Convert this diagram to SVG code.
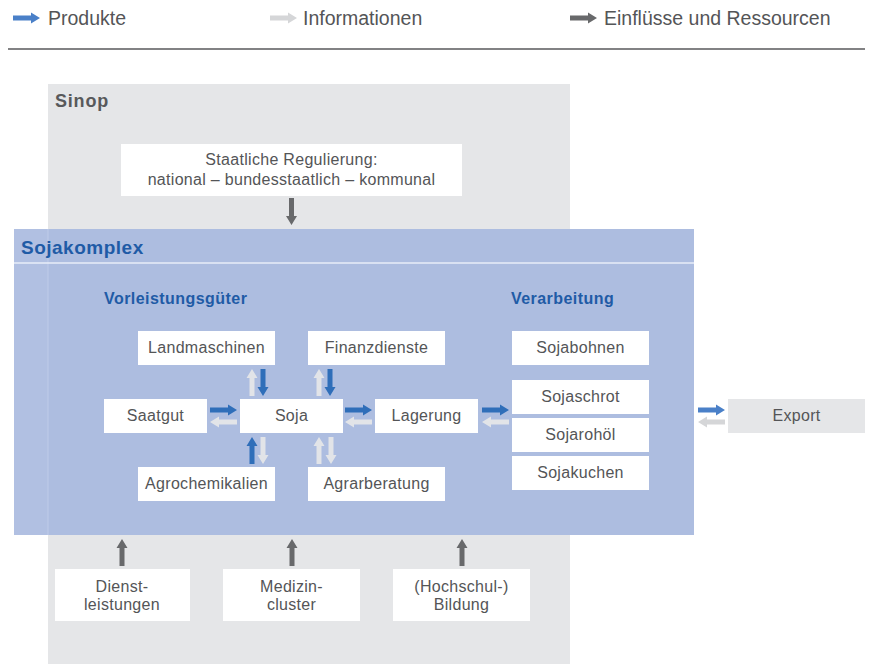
<svg xmlns="http://www.w3.org/2000/svg" xmlns:xlink="http://www.w3.org/1999/xlink" width="870" height="664" viewBox="0 0 870 664">
<style>
  .t{font-family:"Liberation Sans",Arial,sans-serif;font-size:16px;fill:#545557;text-anchor:middle;letter-spacing:0.3px}
  .lg{font-family:"Liberation Sans",Arial,sans-serif;font-size:19.5px;fill:#545557}
  .hd{font-family:"Liberation Sans",Arial,sans-serif;font-weight:bold}
  .box{fill:#ffffff}
  .blue{fill:#2f6eb9}
  .lblue{fill:#4a80c8}
  .light{fill:#e2e4e8}
  .light2{fill:#d5d6d8}
  .dark{fill:#68696b}
</style>
<defs>
  <path id="arr" d="M0,-2.5 H18 V-5.5 L27,0 L18,5.5 V2.5 H0 Z"/>
</defs>

<!-- legend -->
<g id="legend">
  <use xlink:href="#arr" href="#arr" class="lblue" transform="translate(13,18)"/>
  <text class="lg" x="48" y="25">Produkte</text>
  <use xlink:href="#arr" href="#arr" class="light2" transform="translate(270,18)"/>
  <text class="lg" x="303" y="25">Informationen</text>
  <use xlink:href="#arr" href="#arr" class="dark" transform="translate(570,18)"/>
  <text class="lg" x="604" y="25">Einflüsse und Ressourcen</text>
  <line x1="8" y1="49" x2="865" y2="49" stroke="#58595b" stroke-width="1.3"/>
</g>

<!-- Sinop region -->
<g id="sinop">
  <rect x="48" y="84" width="522" height="580" fill="#e5e6e8"/>
  <text class="hd" x="55" y="107" font-size="18" fill="#58595b" letter-spacing="0.8">Sinop</text>
</g>

<g id="regulierung">
  <rect class="box" x="121" y="144" width="341" height="52"/>
  <text class="t" x="291.5" y="165">Staatliche Regulierung:</text>
  <text class="t" x="291.5" y="185">national – bundesstaatlich – kommunal</text>
</g>

<!-- Sojakomplex region -->
<g id="sojakomplex">
  <rect x="14" y="229" width="680" height="306" fill="#adbde0"/>
  <rect x="14" y="229" width="34" height="306" fill="#b1c0e2"/>
  <line x1="48" y1="229" x2="48" y2="535" stroke="#bfcce9" stroke-width="1"/>
  <line x1="14" y1="263" x2="694" y2="263" stroke="#e9eef8" stroke-width="1.5"/>
  <text class="hd" x="21" y="254" font-size="19" fill="#1f5ba6" letter-spacing="0.5">Sojakomplex</text>
  <text class="hd" x="104" y="304" font-size="16" fill="#1f5ba6" letter-spacing="0.45">Vorleistungsgüter</text>
  <text class="hd" x="511" y="304" font-size="16" fill="#1f5ba6" letter-spacing="0.45">Verarbeitung</text>
</g>

<g id="landmaschinen"><rect class="box" x="138" y="331" width="137" height="34"/><text class="t" x="206.5" y="353">Landmaschinen</text></g>
<g id="finanzdienste"><rect class="box" x="308" y="331" width="137" height="34"/><text class="t" x="376.5" y="353">Finanzdienste</text></g>
<g id="saatgut"><rect class="box" x="104" y="399" width="103" height="34"/><text class="t" x="155.5" y="421">Saatgut</text></g>
<g id="soja"><rect class="box" x="240" y="399" width="103" height="34"/><text class="t" x="291.5" y="421">Soja</text></g>
<g id="lagerung"><rect class="box" x="375" y="399" width="103" height="34"/><text class="t" x="426.5" y="421">Lagerung</text></g>
<g id="agrochemikalien"><rect class="box" x="138" y="467" width="137" height="34"/><text class="t" x="206.5" y="489">Agrochemikalien</text></g>
<g id="agrarberatung"><rect class="box" x="308" y="467" width="137" height="34"/><text class="t" x="376.5" y="489">Agrarberatung</text></g>

<g id="sojabohnen"><rect class="box" x="512" y="331" width="137" height="34"/><text class="t" x="580.5" y="353">Sojabohnen</text></g>
<g id="sojaschrot"><rect class="box" x="512" y="380" width="137" height="34"/><text class="t" x="580.5" y="402">Sojaschrot</text></g>
<g id="sojaroehl"><rect class="box" x="512" y="418" width="137" height="34"/><text class="t" x="580.5" y="440">Sojarohöl</text></g>
<g id="sojakuchen"><rect class="box" x="512" y="456" width="137" height="34"/><text class="t" x="580.5" y="478">Sojakuchen</text></g>

<g id="export"><rect x="728" y="399" width="137" height="34" fill="#e5e6e8"/><text class="t" x="796.5" y="421">Export</text></g>

<g id="dienstleistungen"><rect class="box" x="55" y="569" width="135" height="52"/><text class="t" x="122" y="592">Dienst-</text><text class="t" x="122" y="610">leistungen</text></g>
<g id="medizincluster"><rect class="box" x="223" y="569" width="137" height="52"/><text class="t" x="291.5" y="592">Medizin-</text><text class="t" x="291.5" y="610">cluster</text></g>
<g id="bildung"><rect class="box" x="393" y="569" width="137" height="52"/><text class="t" x="461.5" y="592">(Hochschul-)</text><text class="t" x="461.5" y="610">Bildung</text></g>

<!-- connectors -->
<g id="connectors">
  <use href="#arr" class="dark" transform="translate(291.5,198) rotate(90)"/>
  <!-- Landmaschinen -->
  <use href="#arr" class="light" transform="translate(252,396) rotate(-90)"/>
  <use href="#arr" class="blue" transform="translate(263,369) rotate(90)"/>
  <!-- Finanzdienste -->
  <use href="#arr" class="light" transform="translate(319,396) rotate(-90)"/>
  <use href="#arr" class="blue" transform="translate(330,369) rotate(90)"/>
  <!-- Saatgut -->
  <use href="#arr" class="blue" transform="translate(210,410)"/>
  <use href="#arr" class="light" transform="translate(237,422) rotate(180)"/>
  <!-- Lagerung -->
  <use href="#arr" class="blue" transform="translate(345,410)"/>
  <use href="#arr" class="light" transform="translate(372,422) rotate(180)"/>
  <!-- Verarbeitung -->
  <use href="#arr" class="blue" transform="translate(482,410)"/>
  <use href="#arr" class="light" transform="translate(509,422) rotate(180)"/>
  <!-- Export -->
  <use href="#arr" class="lblue" transform="translate(698,410)"/>
  <use href="#arr" class="light2" transform="translate(725,422) rotate(180)"/>
  <!-- Agrochemikalien -->
  <use href="#arr" class="blue" transform="translate(252,464) rotate(-90)"/>
  <use href="#arr" class="light" transform="translate(263,437) rotate(90)"/>
  <!-- Agrarberatung -->
  <use href="#arr" class="light" transform="translate(319,464) rotate(-90)"/>
  <use href="#arr" class="light" transform="translate(331,437) rotate(90)"/>
  <!-- bottom influences -->
  <use href="#arr" class="dark" transform="translate(122,566) rotate(-90)"/>
  <use href="#arr" class="dark" transform="translate(292,566) rotate(-90)"/>
  <use href="#arr" class="dark" transform="translate(462,566) rotate(-90)"/>
</g>
</svg>
